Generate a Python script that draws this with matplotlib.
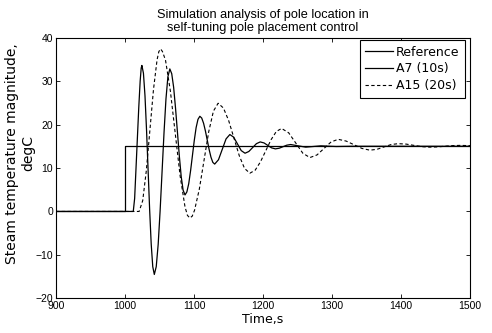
import matplotlib
matplotlib.use("Agg")
from matplotlib import pyplot as plt

# reference step
t_ref = [900, 1000, 1000, 1500]
y_ref = [0, 0, 15, 15]

# A7 (10s) response
t_a7 = [900, 1012, 1014, 1016, 1018, 1020, 1022, 1023.5, 1024.5,
        1026.75, 1029, 1031.25, 1033.5, 1035.75, 1038, 1040.25, 1042.5,
        1045.3, 1048.1, 1050.9, 1053.75, 1056.6, 1059.4, 1062.2, 1065,
        1067.75, 1070.5, 1073.25, 1076, 1078.75, 1081.5, 1084.25, 1087,
        1089.7, 1092.4, 1095.1, 1097.75, 1100.4, 1103.1, 1105.8, 1108.5,
        1111.2, 1113.9, 1116.6, 1119.25, 1121.9, 1124.6, 1127.3, 1130,
        1135.5, 1141, 1146.5, 1152,
        1157.5, 1163, 1168.5, 1174,
        1179.5, 1185, 1190.5, 1196,
        1201.5, 1207, 1212.5, 1218,
        1223.5, 1229, 1234.5, 1240,
        1251, 1262, 1273, 1284, 1295, 1306, 1328, 1500]
y_a7 = [0, 0, 3, 10, 17, 24, 30, 33, 33.6,
        31.8, 26.6, 18.7, 9.55, 0.36, -7.5, -12.7, -14.5,
        -12.7, -7.6, 0.1, 9.15, 18.2, 25.9, 31.0, 32.8,
        31.7, 28.6, 23.8, 18.3, 12.8, 8.0, 4.9, 3.8,
        4.5, 6.4, 9.4, 12.85, 16.3, 19.3, 21.2, 21.9,
        21.5, 20.3, 18.5, 16.4, 14.3, 12.5, 11.3, 10.9,
        11.9, 14.3, 16.7, 17.7,
        17.1, 15.55, 14.0, 13.4,
        13.8, 14.7, 15.6, 16.0,
        15.77, 15.2, 14.63, 14.4,
        14.55, 14.9, 15.25, 15.4,
        15.1, 14.8, 14.95, 15.1, 15.02, 14.95, 15.0, 15.0]

# A15 (20s) response
t_a15 = [900, 1020.5, 1025.7, 1030.9, 1036.1, 1041.3, 1046.5, 1049.1, 1051.7,
         1054.3, 1058.75, 1065.8, 1072.85, 1079.9, 1086.95, 1090.5, 1094,
         1097.4, 1100.8, 1107.7, 1114.5, 1121.3, 1128.2, 1135,
         1142.7, 1150.3, 1158, 1165.7, 1173.3, 1181,
         1188.7, 1196.3, 1204, 1211.7, 1219.3, 1227,
         1237.25, 1247.5, 1257.75, 1268,
         1278.25, 1288.5, 1298.75, 1309,
         1320.5, 1332, 1343.5, 1355,
         1365.25, 1375.5, 1385.75, 1396,
         1407.5, 1419, 1430.5, 1442,
         1452.75, 1463.5, 1474.25, 1485, 1500]
y_a15 = [0, 0, 2.5, 9.35, 18.7, 28.05, 34.9, 36.8, 37.4,
         36.8, 34.8, 27.7, 17.95, 8.2, 1.1, -0.9, -1.5,
         -1.1, 0.27, 5.1, 11.7, 18.3, 23.1, 24.9,
         23.8, 20.9, 16.85, 12.8, 9.9, 8.8,
         9.5, 11.4, 13.95, 16.5, 18.4, 19.1,
         18.1, 15.75, 13.4, 12.4,
         13.0, 14.5, 16.0, 16.6,
         16.2, 15.35, 14.5, 14.1,
         14.3, 14.85, 15.4, 15.6,
         15.5, 15.2, 14.9, 14.8,
         14.85, 15.0, 15.15, 15.2, 15.15]

x_ticks = [900, 1000, 1100, 1200, 1300, 1400, 1500]
y_ticks = [-20, -10, 0, 10, 20, 30, 40]

plt.rcParams['font.family'] = ['Liberation Sans', 'DejaVu Sans']
plt.rcParams['font.size'] = 7.5
wide = ['DejaVu Sans']

fig = plt.figure(figsize=(4.92, 3.33), dpi=100)
ax = fig.add_axes([0.1138, 0.104, 0.8414, 0.783])

ax.plot(t_ref, y_ref, color='black', lw=0.9, label='Reference')
ax.plot(t_a7, y_a7, color='black', lw=0.9, label='A7 (10s)')
ax.plot(t_a15, y_a15, color='black', lw=0.8, linestyle=(0, (3, 2.2)), label='A15 (20s)')

ax.set_xlim(900, 1500)
ax.set_ylim(-20, 40)
ax.set_xticks(x_ticks)
ax.set_yticks(y_ticks)
ax.tick_params(direction='in', top=True, right=True, length=3, width=0.6, pad=2)
for s in ax.spines.values():
    s.set_linewidth(0.8)

ax.set_xlabel('Time,s', fontsize=9, family=wide, labelpad=1)
ax.set_ylabel('Steam temperature magnitude,\ndegC', fontsize=10, family=wide)
ax.yaxis.set_label_coords(-0.05, 0.557)
ax.set_title('Simulation analysis of pole location in\nself-tuning pole placement control',
             fontsize=9.2, pad=4.5)

leg = ax.legend(loc='upper right', bbox_to_anchor=(465 / 492, 1 - 40 / 333),
                bbox_transform=fig.transFigure, borderaxespad=0,
                prop={'family': wide, 'size': 9}, frameon=True, fancybox=False, framealpha=1,
                handlelength=2.25, handletextpad=0.2, labelspacing=0.3, borderpad=0.45)
leg.get_frame().set_edgecolor('black')
leg.get_frame().set_linewidth(0.8)

fig.savefig('out.png', dpi=100)
